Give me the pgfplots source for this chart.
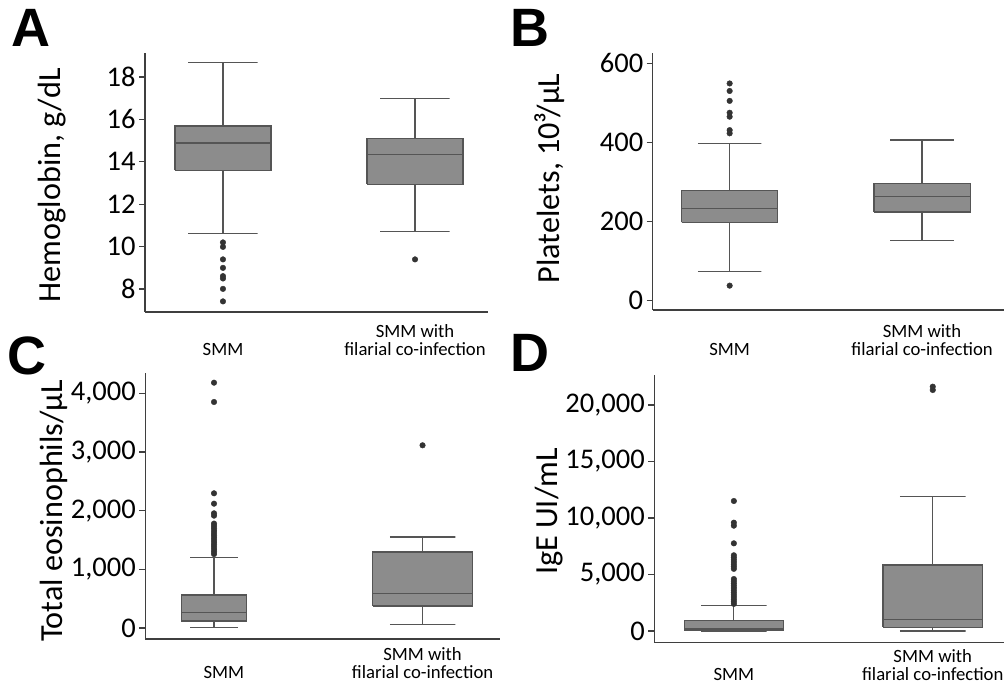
\documentclass[border=0pt]{standalone}
\usepackage{fontspec}
\setmainfont{Carlito}
\newfontfamily\letterfont{Liberation Sans}
\usepackage{pgfplots}
\pgfplotsset{compat=1.18}

\definecolor{boxfill}{HTML}{8C8C8C}
\definecolor{boxline}{HTML}{555555}
\definecolor{axisc}{HTML}{3F3F3F}
\definecolor{dotc}{HTML}{333333}

\pgfplotsset{
  panel/.style={
    scale only axis, anchor=south west, clip=false,
    axis x line*=bottom, axis y line*=left,
    axis line style={draw=axisc, line width=1.5bp, -},
    xtick={1,2},
    xticklabels={{\vphantom{SMM with}\\SMM},{SMM with\\filarial co-infection}},
    x tick style={draw=none},
    y tick style={draw=axisc, line width=1.2bp},
    tick align=outside, major tick length=6bp,
    xticklabel style={font=\fontsize{18.7bp}{17.8bp}\selectfont, align=center, anchor=north},
    yticklabel style={font=\fontsize{28.5bp}{32bp}\selectfont},
    ylabel style={font=\fontsize{32.2bp}{36bp}\selectfont, anchor=center},
    /pgf/number format/assume math mode=true,
    scaled y ticks=false,
  },
  % box (Q1 to Q3), median, whiskers with caps, outliers
  bxs/.style={draw=boxline, fill=boxfill, line width=1.2bp, mark=none},
  wh/.style={draw=boxline, line width=1.2bp, mark=none},
  ol/.style={only marks, mark=*, mark size=2.8bp, draw=dotc, fill=dotc},
}
\newcommand{\panelletter}[2]{\node[font=\letterfont\bfseries\fontsize{54bp}{60bp}\selectfont, inner sep=0pt] at (#1) {#2};}

\begin{document}
\begin{tikzpicture}
\useasboundingbox (0bp,0bp) rectangle (1004bp,685bp);

% A: hemoglobin
\begin{axis}[panel, at={(145bp,373bp)}, width=343bp, height=259bp,
  xmin=0.594, xmax=2.38, ymin=6.92, ymax=19.13, ytick={8,10,...,18},
  xticklabel style={yshift=-3bp},
  ylabel={Hemoglobin, g/dL}, ylabel style={at={(axis description cs:-0.27,0.49)}}]
% SMM: lw 10.61, q1 13.6, med 14.89, q3 15.69, uw 18.69
\addplot[wh] coordinates {(0.82,18.69) (1.18,18.69) (1,18.69) (1,15.69)};
\addplot[wh] coordinates {(0.82,10.61) (1.18,10.61) (1,10.61) (1,13.6)};
\addplot[bxs] coordinates {(0.75,13.6) (1.25,13.6) (1.25,15.69) (0.75,15.69) (0.75,13.6)};
\addplot[wh] coordinates {(0.75,14.89) (1.25,14.89)};
\addplot[ol] coordinates {(1,10.2) (1,9.99) (1,9.4) (1,9.0) (1,8.61) (1,8.5) (1,8.01) (1,7.42)};
% filarial: lw 10.7, q1 12.94, med 14.33, q3 15.11, uw 16.98
\addplot[wh] coordinates {(1.82,16.98) (2.18,16.98) (2,16.98) (2,15.11)};
\addplot[wh] coordinates {(1.82,10.7) (2.18,10.7) (2,10.7) (2,12.94)};
\addplot[bxs] coordinates {(1.75,12.94) (2.25,12.94) (2.25,15.11) (1.75,15.11) (1.75,12.94)};
\addplot[wh] coordinates {(1.75,14.33) (2.25,14.33)};
\addplot[ol] coordinates {(2,9.4)};
\end{axis}

% B: platelets
\begin{axis}[panel, at={(652.7bp,375bp)}, width=351.3bp, height=257bp,
  xmin=0.6, xmax=2.426, ymin=-23.6, ymax=626, ytick={0,200,400,600},
  xticklabel style={yshift=-5bp},
  ylabel={Platelets, 10³/µL}, ylabel style={at={(axis description cs:-0.294,0.512)}}]
\addplot[wh] coordinates {(0.835,398) (1.165,398) (1,398) (1,278)};
\addplot[wh] coordinates {(0.835,74) (1.165,74) (1,74) (1,198)};
\addplot[bxs] coordinates {(0.75,198) (1.25,198) (1.25,278) (0.75,278) (0.75,198)};
\addplot[wh] coordinates {(0.75,232.5) (1.25,232.5)};
\addplot[ol] coordinates {(1,549) (1,530) (1,505) (1,475) (1,465) (1,431) (1,423) (1,38)};
\addplot[wh] coordinates {(1.835,406) (2.165,406) (2,406) (2,297)};
\addplot[wh] coordinates {(1.835,152.6) (2.165,152.6) (2,152.6) (2,224)};
\addplot[bxs] coordinates {(1.75,224) (2.25,224) (2.25,297) (1.75,297) (1.75,224)};
\addplot[wh] coordinates {(1.75,264) (2.25,264)};
\end{axis}

% C: eosinophils
\begin{axis}[panel, at={(145.3bp,46bp)}, width=354.7bp, height=265.7bp,
  xmin=0.604, xmax=2.39, ymin=-187, ymax=4341, ytick={0,1000,...,4000},
  xticklabel style={yshift=1bp},
  ylabel={Total eosinophils/µL}, ylabel style={at={(axis description cs:-0.257,0.482)}}]
\addplot[wh] coordinates {(0.83,1199) (1.07,1199) (0.95,1199) (0.95,562)};
\addplot[wh] coordinates {(0.83,12) (1.07,12) (0.95,12) (0.95,119)};
\addplot[bxs] coordinates {(0.785,119) (1.115,119) (1.115,562) (0.785,562) (0.785,119)};
\addplot[wh] coordinates {(0.785,267) (1.115,267)};
\addplot[ol] coordinates {(0.95,4181) (0.95,3852) (0.95,2296) (0.95,2119) (0.95,1955) (0.95,1915)
  (0.95,1780) (0.95,1740) (0.95,1700) (0.95,1660) (0.95,1620) (0.95,1580) (0.95,1540)
  (0.95,1500) (0.95,1460) (0.95,1420) (0.95,1380) (0.95,1340) (0.95,1300) (0.95,1260)};
\addplot[wh] coordinates {(1.835,1551) (2.165,1551) (2,1551) (2,1295)};
\addplot[wh] coordinates {(1.835,56) (2.165,56) (2,56) (2,375)};
\addplot[bxs] coordinates {(1.75,375) (2.25,375) (2.25,1295) (1.75,1295) (1.75,375)};
\addplot[wh] coordinates {(1.75,591) (2.25,591)};
\addplot[ol] coordinates {(2,3114)};
\end{axis}

% D: IgE
\begin{axis}[panel, at={(654.3bp,42.7bp)}, width=360bp, height=267.3bp,
  xmin=0.6, xmax=2.41, ymin=-1000, ymax=22655, ytick={0,5000,...,20000},
  xticklabel style={yshift=2.5bp},
  ylabel={IgE UI/mL}, ylabel style={at={(axis description cs:-0.291,0.489)}}]
\addplot[wh] coordinates {(0.835,2242) (1.165,2242) (1,2242) (1,900)};
\addplot[wh] coordinates {(0.835,0) (1.165,0) (1,0) (1,80)};
\addplot[bxs] coordinates {(0.75,80) (1.25,80) (1.25,900) (0.75,900) (0.75,80)};
\addplot[wh] coordinates {(0.75,236) (1.25,236)};
\addplot[ol] coordinates {(1,11504) (1,9587) (1,9322) (1,7758) (1,6700) (1,6500) (1,6300) (1,6100)
  (1,5900) (1,5700) (1,5500) (1,4600) (1,4400) (1,4200) (1,4000) (1,3800) (1,3600) (1,3400)
  (1,3200) (1,3000) (1,2800) (1,2600) (1,2400)};
\addplot[wh] coordinates {(1.835,11888) (2.165,11888) (2,11888) (2,5841)};
\addplot[wh] coordinates {(1.835,0) (2.165,0) (2,0) (2,324)};
\addplot[bxs] coordinates {(1.75,324) (2.25,324) (2.25,5841) (1.75,5841) (1.75,324)};
\addplot[wh] coordinates {(1.75,1032) (2.25,1032)};
\addplot[ol] coordinates {(2,21622) (2,21327)};
\end{axis}

\panelletter{31bp,657.5bp}{A}
\panelletter{529.7bp,657.5bp}{B}
\panelletter{26.7bp,329.2bp}{C}
\panelletter{530bp,332.5bp}{D}
\end{tikzpicture}
\end{document}
